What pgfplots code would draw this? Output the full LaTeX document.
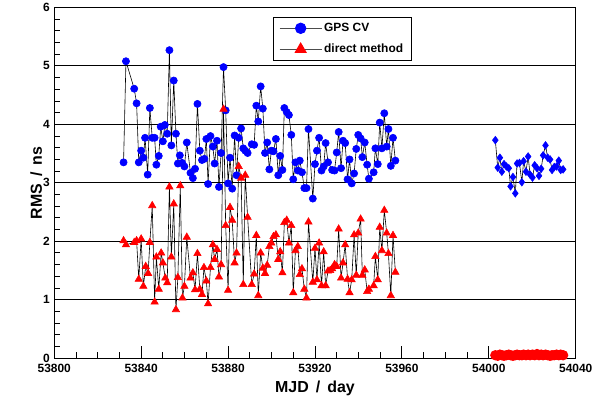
\documentclass[border=0pt]{standalone}
\usepackage{fontspec}
\setmainfont{Liberation Sans}
\usepackage{pgfplots}
\pgfplotsset{compat=1.18}
\usepackage{pgfplotstable}

% GPS common view, first campaign
\pgfplotstableread{
x y
53831.9 3.35
53833.0 5.08
53836.8 4.61
53837.9 4.36
53838.9 3.35
53840.0 3.55
53841.0 3.43
53841.8 3.77
53843.0 3.14
53844.0 4.28
53845.1 3.77
53846.2 3.77
53847.0 3.31
53848.1 3.46
53849.0 3.96
53850.0 3.71
53850.9 3.99
53852.0 3.84
53853.0 5.27
53853.9 3.64
53855.0 4.75
53856.0 3.84
53856.9 3.33
53857.8 3.47
53858.9 3.34
53859.9 3.28
53861.0 3.69
53862.7 3.17
53863.8 3.08
53864.8 3.24
53865.9 4.35
53867.0 3.55
53868.0 3.39
53869.1 3.41
53870.0 3.75
53870.8 2.98
53871.9 3.80
53873.0 3.62
53873.8 3.33
53874.9 3.72
53875.8 2.93
53876.8 3.51
53877.9 4.98
53878.9 4.24
53880.0 2.99
53880.9 3.43
53881.9 2.90
53883.0 3.81
53883.9 3.13
53884.9 3.77
53886.0 3.93
53887.0 3.59
53887.9 3.55
53889.0 3.51
53890.9 3.66
53892.0 3.65
53893.0 4.32
53893.9 4.05
53895.0 4.65
53896.0 4.27
53897.0 3.51
53898.0 3.69
53899.0 3.23
53899.9 3.55
53900.9 3.54
53902.0 3.75
53903.1 3.13
53904.0 3.46
53905.0 3.22
53905.9 4.28
53907.0 4.21
53908.0 4.16
53909.1 3.82
53910.0 3.06
53911.0 3.35
53912.1 3.21
53913.0 3.38
53914.0 3.18
53915.1 2.91
53916.1 2.91
53917.0 3.92
53919.0 2.73
53920.0 3.32
53920.9 3.55
53921.9 3.77
53923.0 3.21
53924.0 3.28
53924.9 3.68
53926.0 3.35
53927.9 3.22
53929.0 3.21
53930.0 3.52
53930.9 3.87
53932.0 3.25
53932.9 3.72
53933.9 3.68
53935.0 3.06
53935.9 3.40
53936.9 2.99
53938.0 3.16
53939.0 3.58
53939.9 3.82
53941.0 3.76
53941.8 3.44
53942.9 3.69
53944.0 3.31
53944.8 3.07
53947.0 3.18
53947.8 3.59
53948.9 3.32
53949.8 4.03
53950.8 3.59
53951.9 4.19
53953.0 3.62
53953.8 3.92
53954.9 3.29
53955.9 3.77
53957.0 3.38
}\gpsA

% direct method, first campaign
\pgfplotstableread{
x y
53831.9 2.01
53833.0 1.94
53836.8 1.98
53837.9 2.01
53838.9 1.35
53840.0 2.04
53841.0 1.23
53842.1 1.57
53843.2 1.45
53844.0 1.98
53845.1 2.61
53846.2 0.96
53847.0 1.73
53848.1 1.18
53849.2 1.80
53850.0 1.63
53851.1 1.37
53852.0 1.29
53853.0 2.93
53853.9 1.73
53855.0 2.64
53856.0 0.83
53856.9 1.38
53858.0 2.95
53859.0 1.03
53859.9 1.23
53861.0 2.07
53862.7 1.37
53863.8 1.46
53864.8 1.17
53865.9 1.79
53867.0 1.18
53868.0 1.09
53868.9 1.55
53870.0 1.32
53870.8 0.93
53871.9 1.55
53873.0 1.94
53873.8 1.69
53874.9 1.86
53875.8 1.39
53876.8 1.60
53877.9 4.26
53878.9 2.27
53880.0 1.16
53880.9 2.58
53881.9 2.36
53883.0 1.63
53883.9 1.80
53884.9 3.28
53886.0 3.08
53887.0 1.26
53887.9 3.13
53889.0 2.41
53890.9 1.26
53892.0 1.44
53893.0 2.10
53893.9 1.07
53895.0 1.80
53896.0 1.54
53897.0 1.45
53898.0 1.59
53899.0 1.91
53899.9 1.97
53900.9 2.08
53902.0 2.11
53903.1 1.69
53904.0 1.82
53905.0 1.46
53905.9 2.32
53907.0 2.36
53908.0 1.97
53909.1 2.27
53910.0 1.12
53911.0 1.84
53912.1 1.91
53913.0 1.43
53914.0 1.53
53915.1 1.18
53916.1 1.03
53917.0 2.33
53919.0 1.30
53920.0 1.88
53920.9 1.34
53921.9 1.97
53923.0 1.24
53924.0 1.82
53924.9 1.24
53926.0 1.49
53927.0 1.50
53927.9 1.53
53929.0 1.60
53930.0 1.57
53930.9 2.21
53932.0 1.37
53932.9 1.63
53933.9 1.94
53935.0 1.35
53935.9 1.12
53936.9 1.34
53938.0 2.11
53939.0 1.42
53939.9 2.14
53941.0 2.38
53941.8 1.42
53942.9 1.51
53944.0 1.14
53944.8 1.18
53947.0 1.24
53947.8 1.74
53948.9 1.34
53949.8 2.24
53950.8 1.84
53951.9 2.53
53953.0 2.14
53953.8 1.79
53954.9 1.07
53955.9 2.10
53957.0 1.47
}\directA

% second campaign: GPS CV and direct method
\pgfplotstableread{
x gps direct
54003.0 3.73 0.05
54004.1 3.26 0.04
54005.1 3.43 0.06
54006.0 3.19 0.05
54007.0 3.32 0.04
54008.1 3.28 0.05
54009.2 3.25 0.06
54010.0 2.94 0.05
54011.1 3.10 0.04
54012.2 2.82 0.05
54013.0 3.33 0.06
54014.1 3.34 0.05
54015.2 3.01 0.05
54016.0 3.37 0.06
54017.1 3.19 0.05
54018.1 3.45 0.06
54019.0 3.14 0.05
54020.1 3.09 0.06
54021.1 3.30 0.05
54022.2 3.25 0.07
54023.1 3.12 0.05
54024.1 3.24 0.06
54025.0 3.47 0.05
54026.1 3.64 0.06
54027.1 3.43 0.05
54028.2 3.40 0.04
54029.1 3.22 0.05
54030.1 3.27 0.05
54031.2 3.28 0.06
54032.2 3.38 0.05
54033.1 3.22 0.06
54034.2 3.23 0.05
}\campB

\begin{document}
\begin{tikzpicture}
\begin{axis}[
  name=ax,
  scale only axis,
  width=522bp, height=351bp,
  xmin=53800, xmax=54040,
  ymin=0, ymax=6,
  xtick={53800,53840,...,54040},
  ytick={0,1,...,6},
  minor xtick={53810,53820,...,54030},
  minor ytick={0.2,0.4,...,5.8},
  scaled x ticks=false,
  tick pos=left,
  tick align=inside,
  major tick length=12bp,
  minor tick length=6bp,
  every tick/.style={black, line width=0.9bp},
  extra y ticks={1,2,3,4,5},
  extra y tick labels={},
  extra y tick style={grid=major, major grid style={black, line width=0.9bp}},
  xticklabel style={/pgf/number format/1000 sep={}, /pgf/number format/fixed},
  /pgf/number format/assume math mode=true,
  tick label style={font=\fontsize{12}{14}\selectfont\bfseries},
  xticklabel style={yshift=-3bp},
  yticklabel style={xshift=-1bp},
  xlabel={MJD \,/\, day},
  ylabel={RMS \,/\, ns},
  label style={font=\fontsize{16}{18}\selectfont\bfseries},
  xlabel style={yshift=-1bp},
  ylabel style={yshift=-6bp},
  axis line style={black, line width=1.1bp},
  clip=false,
  legend cell align=left,
  legend style={
    at={(0.419,0.973)}, anchor=north west,
    draw=black, line width=0.9bp,
    font=\fontsize{12}{14}\selectfont\bfseries,
    inner xsep=6bp, inner ysep=4bp,
    row sep=7bp,
  },
  legend image code/.code={
    \draw[mark repeat=2, mark phase=2, black!70, line width=1bp]
      plot coordinates {(0bp,0bp) (21bp,0bp) (42bp,0bp)};
  },
]
\addplot[black, line width=0.6bp, mark=*, mark size=3.6bp,
  mark options={draw=blue, fill=blue, solid},
  legend image post style={mark size=5.2bp}]
  table[x=x, y=y] {\gpsA};
\addlegendentry{GPS CV}

\addplot[black, line width=0.6bp, mark=triangle*, mark size=4.2bp,
  mark options={draw=red, fill=red, solid},
  legend image post style={mark size=6.2bp}]
  table[x=x, y=y] {\directA};
\addlegendentry{direct method}

\addplot[black, line width=0.6bp, mark=diamond*, mark size=3.8bp,
  mark options={draw=blue, fill=blue, solid}, forget plot]
  table[x=x, y=gps] {\campB};

\addplot[red, line width=5bp, mark=*, mark size=2.5bp,
  mark options={draw=red, fill=red, solid}, forget plot]
  table[x=x, y=direct] {\campB};
\end{axis}
\pgfresetboundingbox
\path ([xshift=-54.3bp, yshift=-41.7bp]ax.south west)
  rectangle ([xshift=24.3bp, yshift=7.5bp]ax.north east);
\end{tikzpicture}
\end{document}
